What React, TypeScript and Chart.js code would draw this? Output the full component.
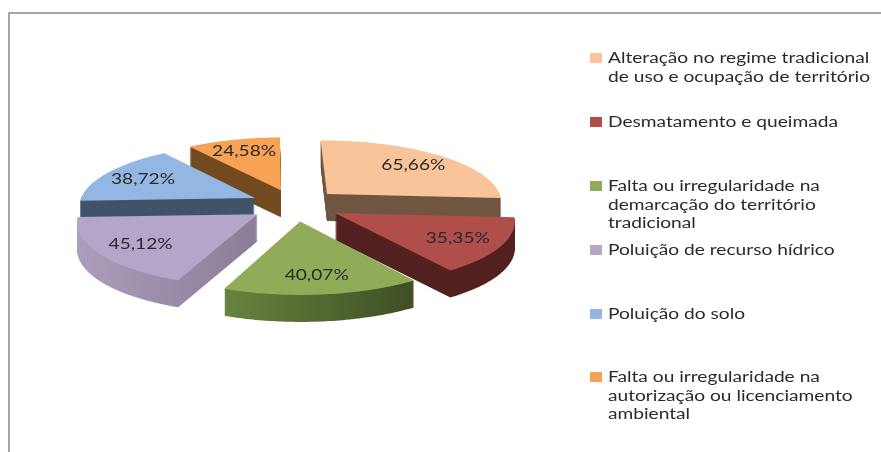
import React, { useEffect, useRef } from "react";
import { Chart, registerables } from "chart.js";

Chart.register(...registerables);

const categories = [
  ["Alteração no regime tradicional", "de uso e ocupação de território"],
  ["Desmatamento e queimada"],
  ["Falta ou irregularidade na", "demarcação do território", "tradicional"],
  ["Poluição de recurso hídrico"],
  ["Poluição do solo"],
  ["Falta ou irregularidade na", "autorização ou licenciamento", "ambiental"],
];
const values = [65.66, 35.35, 40.07, 45.12, 38.72, 24.58];
const topColors = ["#F9C499", "#AF4E4B", "#92AB59", "#B5A6C9", "#93B6E2", "#F7A254"];
const wallStart = ["#6F5641", "#52201F", "#68833F", "#AB9DBB", "#415368", "#734A20"];
const wallEnd = ["#6F5641", "#52201F", "#3F4E24", "#8B7D98", "#415368", "#734A20"];
const legendTops = [58, 122, 186, 250, 314, 377];

const EXPLODE = 45;
const SQUASH = 0.358;
const PERSPECTIVE = 0.11;
const DEPTH = 27;
const LABEL_AT = 0.75;
const FONT = '15.5px Lato, "Noto Sans", sans-serif';
const TEXT_STRETCH = 1.235;
const TEXT_COLOR = "#2a2a2a";

function project(cx: number, cy: number, R: number, X: number, Y: number) {
  const k = 1 + (PERSPECTIVE * Y) / R;
  return { x: cx + X * k, y: cy + Y * SQUASH * k };
}

function drawStretched(ctx: CanvasRenderingContext2D, text: string, x: number, y: number, center: boolean) {
  ctx.save();
  ctx.translate(x, y);
  ctx.scale(TEXT_STRETCH, 1);
  ctx.font = FONT;
  ctx.fillStyle = TEXT_COLOR;
  ctx.textAlign = center ? "center" : "left";
  ctx.textBaseline = "middle";
  ctx.fillText(text, 0, 0);
  ctx.restore();
}

const pie3d = {
  id: "pie3d",
  beforeDatasetDraw() {
    return false;
  },
  afterDatasetsDraw(chart: any) {
    const ctx: CanvasRenderingContext2D = chart.ctx;
    const arcs = chart.getDatasetMeta(0).data;
    const order = arcs
      .map((arc: any, i: number) => {
        const mid = (arc.startAngle + arc.endAngle) / 2;
        return { arc, i, mid, ex: Math.cos(mid) * EXPLODE, ey: Math.sin(mid) * EXPLODE };
      })
      .sort((a: any, b: any) => a.ey - b.ey);

    for (const s of order) {
      const { arc, i, ex, ey } = s;
      const R = arc.outerRadius;
      const pts: { x: number; y: number }[] = [project(arc.x, arc.y, R, ex, ey)];
      const steps = 60;
      for (let n = 0; n <= steps; n++) {
        const a = arc.startAngle + ((arc.endAngle - arc.startAngle) * n) / steps;
        pts.push(project(arc.x, arc.y, R, ex + Math.cos(a) * R, ey + Math.sin(a) * R));
      }
      const trace = (dy: number) => {
        ctx.beginPath();
        pts.forEach((p, n) => (n ? ctx.lineTo(p.x, p.y + dy) : ctx.moveTo(p.x, p.y + dy)));
        ctx.closePath();
      };
      const xs = pts.map((p) => p.x);
      const grad = ctx.createLinearGradient(Math.min(...xs), 0, Math.max(...xs), 0);
      grad.addColorStop(0, wallStart[i]);
      grad.addColorStop(1, wallEnd[i]);
      ctx.fillStyle = grad;
      for (let d = DEPTH; d >= 1; d--) {
        trace(d);
        ctx.fill();
      }
      trace(0);
      ctx.fillStyle = topColors[i];
      ctx.fill();
    }

    for (const s of order) {
      const { arc, i, mid, ex, ey } = s;
      const R = arc.outerRadius;
      const p = project(arc.x, arc.y, R, ex + Math.cos(mid) * R * LABEL_AT, ey + Math.sin(mid) * R * LABEL_AT);
      const text = chart.data.datasets[0].data[i].toFixed(2).replace(".", ",") + "%";
      drawStretched(ctx, text, p.x, p.y, true);
    }

    // frame
    ctx.save();
    ctx.strokeStyle = "#8a8a8a";
    ctx.lineWidth = 1.5;
    ctx.beginPath();
    ctx.moveTo(9, 452);
    ctx.lineTo(9, 13);
    ctx.lineTo(881, 13);
    ctx.stroke();
    ctx.restore();

    // legend
    chart.data.labels.forEach((lines: string[], i: number) => {
      const top = legendTops[i];
      ctx.fillStyle = topColors[i];
      ctx.fillRect(590, top - 5, 12, 10);
      lines.forEach((line, n) => drawStretched(ctx, line, 608, top + n * 18.7, false));
    });
  },
};

export default function App() {
  const ref = useRef<HTMLCanvasElement>(null);
  useEffect(() => {
    const chart = new Chart(ref.current as HTMLCanvasElement, {
      type: "pie",
      data: {
        labels: categories as any,
        datasets: [{ data: values, backgroundColor: topColors, borderWidth: 0, radius: 176, rotation: -1 } as any],
      },
      options: {
        animation: false,
        responsive: false,
        layout: { padding: { left: 0, top: 0, right: 291, bottom: 42 } },
        plugins: { legend: { display: false }, tooltip: { enabled: false } },
      },
      plugins: [pie3d as any],
    });
    return () => chart.destroy();
  }, []);
  return (
    <div style={{ position: "fixed", left: 0, top: 0, width: 881, height: 452, background: "#fff" }}>
      <canvas ref={ref} width={881} height={452} style={{ display: "block", filter: "blur(0.55px)" }} />
    </div>
  );
}
